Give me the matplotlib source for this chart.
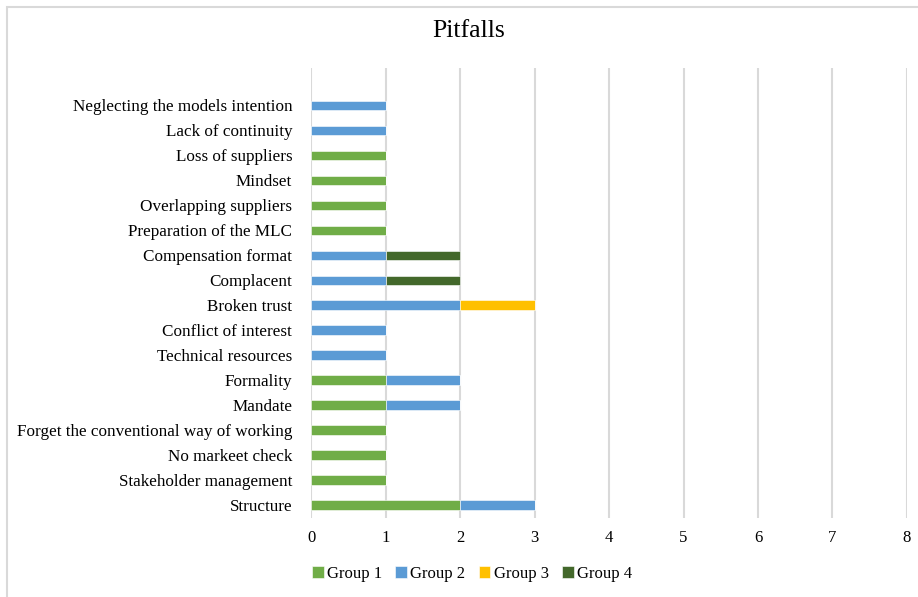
import matplotlib.pyplot as plt
from matplotlib.patches import Rectangle
import numpy as np

plt.rcParams['font.family'] = ['Liberation Serif', 'DejaVu Serif']

# Categories listed bottom to top
categories = [
    "Structure",
    "Stakeholder management",
    "No markeet check",
    "Forget the conventional way of working",
    "Mandate",
    "Formality",
    "Technical resources",
    "Conflict of interest",
    "Broken trust",
    "Complacent",
    "Compensation format",
    "Preparation of the MLC",
    "Overlapping suppliers",
    "Mindset",
    "Loss of suppliers",
    "Lack of continuity",
    "Neglecting the models intention",
]

group1 = [2, 1, 1, 1, 1, 1, 0, 0, 0, 0, 0, 1, 1, 1, 1, 0, 0]
group2 = [1, 0, 0, 0, 1, 1, 1, 1, 2, 1, 1, 0, 0, 0, 0, 1, 1]
group3 = [0, 0, 0, 0, 0, 0, 0, 0, 1, 0, 0, 0, 0, 0, 0, 0, 0]
group4 = [0, 0, 0, 0, 0, 0, 0, 0, 0, 1, 1, 0, 0, 0, 0, 0, 0]

series = [
    ("Group 1", group1, "#70AD47"),
    ("Group 2", group2, "#5B9BD5"),
    ("Group 3", group3, "#FFC000"),
    ("Group 4", group4, "#43682B"),
]

xticks = [0, 1, 2, 3, 4, 5, 6, 7, 8]

fig = plt.figure(figsize=(9.18, 5.97), dpi=100)
fig.patches.append(Rectangle((7 / 918, -0.05), 1.2, 1 - 7 / 597 + 0.05,
                             transform=fig.transFigure, fill=False,
                             edgecolor="#D9D9D9", linewidth=1.5))

ax = fig.add_axes([311 / 918, 1 - 517.5 / 597, (907 - 311) / 918, (517.5 - 68) / 597])

y = np.arange(len(categories))
left = np.zeros(len(categories))
handles = []
for name, vals, color in series:
    vals = np.array(vals, dtype=float)
    h = ax.barh(y, vals, left=left, height=0.38, color=color,
                edgecolor="white", linewidth=0.4, label=name, zorder=3)
    handles.append(h)
    left += vals

ax.set_xlim(xticks[0], xticks[-1])
ax.set_ylim(-0.5, 17.5)
ax.set_xticks(xticks)
ax.set_yticks(y)
ax.set_yticklabels(categories, fontsize=12.3)
ax.tick_params(axis="x", labelsize=12, length=0, pad=9)
ax.tick_params(axis="y", length=0, pad=13.5)
ax.xaxis.grid(True, color="#D9D9D9", linewidth=1.5, zorder=0)
ax.set_axisbelow(True)
for s in ax.spines.values():
    s.set_visible(False)

fig.text(469 / 918, 1 - 31 / 597, "Pitfalls", ha="center", va="center", fontsize=18.5)

fig.legend(handles=handles, loc="center", bbox_to_anchor=(472 / 918, 1 - 574 / 597),
           ncol=4, frameon=False, fontsize=12, handlelength=0.7, handleheight=0.7,
           handletextpad=0.2, columnspacing=0.8)

fig.savefig("out.png", dpi=100)
